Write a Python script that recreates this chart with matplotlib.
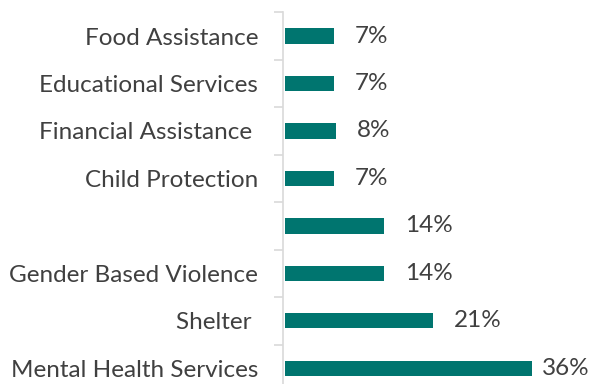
import matplotlib.pyplot as plt
import numpy as np

categories = ["Food Assistance", "Educational Services", "Financial Assistance ",
              "Child Protection", "", "Gender Based Violence", "Shelter ",
              "Mental Health Services"]
values = [7.1, 7.1, 7.4, 7.1, 14.3, 14.3, 21.4, 35.7]
labels = ["7%", "7%", "8%", "7%", "14%", "14%", "21%", "36%"]

plt.rcParams['font.family'] = ['Lato', 'DejaVu Sans']

fig = plt.figure(figsize=(5.9, 3.84), dpi=100)
ax = fig.add_axes([0.48, -0.021, 0.52, 0.989])

y = np.arange(len(categories))
bars = ax.barh(y, values, height=0.32, color='#00756F', left=0.3)
# last label sits closer to its bar so it fits in the figure
for i, (b, lab) in enumerate(zip(bars, labels)):
    pad = 7 if i == len(labels) - 1 else 15
    ax.annotate(lab, xy=(b.get_x() + b.get_width(), b.get_y() + b.get_height() / 2),
                xytext=(pad, 0), textcoords='offset points', ha='left', va='center',
                fontsize=17.5, color='#404040')

ax.set_ylim(len(categories) - 0.5, -0.5)
ax.set_xlim(0, 44.4)
ax.set_yticks(y)
ax.set_yticklabels(categories, fontsize=17.5, color='#404040')
ax.set_yticks(np.arange(len(categories) + 1) - 0.5, minor=True)
ax.tick_params(axis='y', which='major', length=0, pad=18)
ax.tick_params(axis='y', which='minor', length=6.5, width=1.2, color='#d9d9d9')
ax.set_xticks([])
for s in ['top', 'right', 'bottom']:
    ax.spines[s].set_visible(False)
ax.spines['left'].set_color('#d9d9d9')
ax.spines['left'].set_linewidth(1.2)

fig.savefig('out.png', dpi=100)
